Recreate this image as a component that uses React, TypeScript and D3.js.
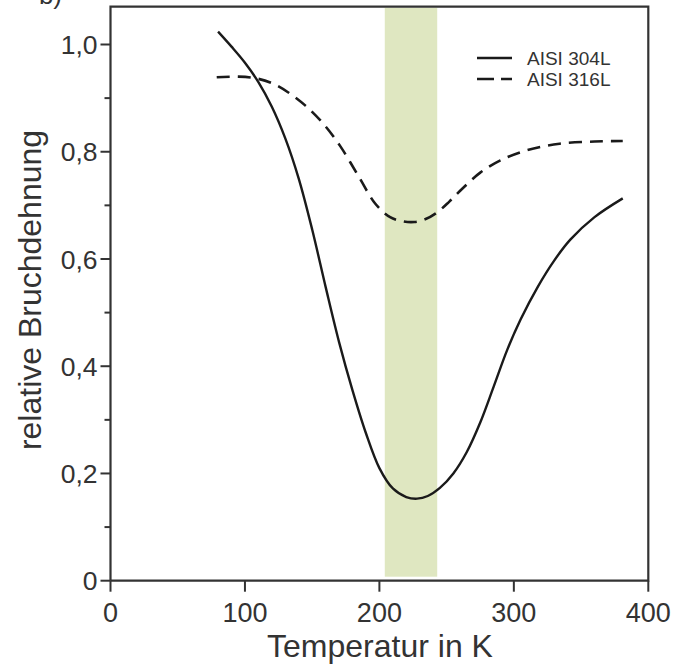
import React from "react";
import * as d3 from "d3";

const temps304 = [80, 90, 100, 110, 120, 130, 140, 150, 160, 170, 180, 190, 200, 210, 220, 228, 236, 245, 255, 265, 275, 285, 295, 305, 318, 330, 342, 360, 381];
const vals304 = [1.024, 0.996, 0.966, 0.93, 0.884, 0.825, 0.75, 0.655, 0.548, 0.445, 0.355, 0.275, 0.21, 0.172, 0.156, 0.153, 0.158, 0.173, 0.2, 0.24, 0.295, 0.362, 0.43, 0.487, 0.549, 0.597, 0.636, 0.678, 0.713];

const temps316 = [79, 95, 108, 120, 132, 145, 158, 171, 185, 197, 208, 218, 226, 234, 243, 252, 262, 275, 290, 310, 334, 360, 381];
const vals316 = [0.939, 0.94, 0.937, 0.928, 0.911, 0.886, 0.853, 0.81, 0.752, 0.703, 0.678, 0.67, 0.669, 0.674, 0.687, 0.707, 0.732, 0.761, 0.784, 0.803, 0.815, 0.819, 0.82];

const band = [204, 243];
const xTicks = [0, 100, 200, 300, 400];
const yTicks = [0, 0.2, 0.4, 0.6, 0.8, 1.0];
const yMinor = [0.1, 0.3, 0.5, 0.7, 0.9];
const seriesNames = ["AISI 304L", "AISI 316L"];

const W = 675, H = 670;
const L = 110.5, R = 648.3, T = 6.7, B = 580.7;

export default function App() {
  const x = d3.scaleLinear().domain([0, 400]).range([L, R]);
  const y = d3.scaleLinear().domain([0, 1.0705]).range([B, T]);
  const line = d3.line<number>().curve(d3.curveCatmullRom.alpha(0.5));
  const p304 = line(temps304.map((t, i) => [x(t), y(vals304[i])] as any) as any);
  const p316 = line(temps316.map((t, i) => [x(t), y(vals316[i])] as any) as any);
  const fmt = (v: number) => (v === 0 ? "0" : v.toFixed(1).replace(".", ","));
  const axisColor = "#333";
  const font = "Liberation Sans, Arial, sans-serif";
  return (
    <svg width={W} height={H} style={{ position: "absolute", left: 0, top: 0, background: "#fff" }} fontFamily={font}>
      <rect x={x(band[0])} y={T + 1} width={x(band[1]) - x(band[0])} height={B - T - 5} fill="#dfe7c1" />
      <text x={62} y={4} fontSize={26} textAnchor="end" fill="#333">b)</text>
      <path d={`M${L},${B}V${T}H${R}V${B}H${L}`} fill="none" stroke={axisColor} strokeWidth={2.2} />
      {yTicks.map((v) => (
        <g key={"y" + v}>
          <line x1={L - 10} x2={L} y1={y(v)} y2={y(v)} stroke={axisColor} strokeWidth={2} />
          <text x={L - 13} y={y(v)} dy="0.36em" textAnchor="end" fontSize={26.5} fill="#333">{fmt(v)}</text>
        </g>
      ))}
      {yMinor.map((v) => (
        <line key={"m" + v} x1={L - 6} x2={L} y1={y(v)} y2={y(v)} stroke={axisColor} strokeWidth={2} />
      ))}
      {xTicks.map((v) => (
        <g key={"x" + v}>
          <line x1={x(v)} x2={x(v)} y1={B} y2={B + 11} stroke={axisColor} strokeWidth={2} />
          <text x={x(v)} y={622} textAnchor="middle" fontSize={27} fill="#333">{v}</text>
        </g>
      ))}
      <text x={380} y={657} textAnchor="middle" fontSize={32} fill="#333">Temperatur in K</text>
      <text transform={`translate(41,290) rotate(-90)`} textAnchor="middle" fontSize={32} fill="#333">relative Bruchdehnung</text>
      <path d={p304 || ""} fill="none" stroke="#1a1a1a" strokeWidth={2.4} />
      <path d={p316 || ""} fill="none" stroke="#1a1a1a" strokeWidth={2.6} strokeDasharray="13,8" />
      <line x1={477} x2={512} y1={58} y2={58} stroke="#1a1a1a" strokeWidth={2.6} />
      <text x={527} y={58} dy="0.36em" fontSize={19} fill="#333">{seriesNames[0]}</text>
      <line x1={477} x2={512} y1={79} y2={79} stroke="#1a1a1a" strokeWidth={2.6} strokeDasharray="17,7,11" />
      <text x={527} y={79} dy="0.36em" fontSize={19} fill="#333">{seriesNames[1]}</text>
    </svg>
  );
}
